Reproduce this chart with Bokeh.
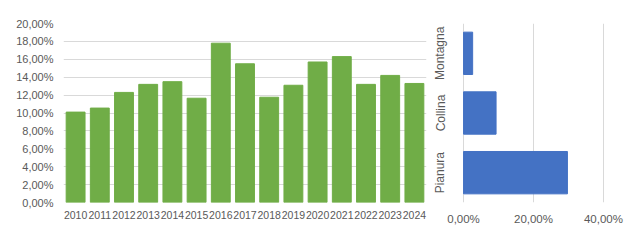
from bokeh.plotting import figure
from bokeh.layouts import row
from bokeh.models import FixedTicker, Range1d, FactorRange
from bokeh.embed import file_html
from bokeh.resources import INLINE

years = [str(y) for y in range(2010, 2025)]
year_values = [0.101, 0.1055, 0.123, 0.132, 0.135, 0.1165, 0.178, 0.155,
               0.1176, 0.131, 0.157, 0.163, 0.132, 0.142, 0.133]
y_ticks = [0.0, 0.02, 0.04, 0.06, 0.08, 0.10, 0.12, 0.14, 0.16, 0.18, 0.20]

zones = ["Pianura", "Collina", "Montagna"]
zone_values = [0.297, 0.093, 0.026]
x_ticks = [0.0, 0.2, 0.4]

def pct(v):
    return ("%.2f%%" % (v * 100)).replace(".", ",")

LABEL = "#595959"
GRID = "#d9d9d9"
FONT = "Liberation Sans"

left = figure(width=430, height=240, x_range=FactorRange(*years),
              y_range=Range1d(0, 0.20), output_backend="svg",
              toolbar_location=None, min_border_left=63, min_border_right=4,
              min_border_top=20, min_border_bottom=38)
left.vbar(x=years, top=year_values, width=0.78, color="#70AD47")
left.outline_line_color = None
left.xgrid.grid_line_color = None
left.ygrid.grid_line_color = GRID
left.ygrid.ticker = FixedTicker(ticks=y_ticks)
left.yaxis.ticker = FixedTicker(ticks=y_ticks)
left.yaxis.major_label_overrides = {t: pct(t) for t in y_ticks}
for ax in (left.xaxis[0], left.yaxis[0]):
    ax.axis_line_color = None
    ax.major_tick_line_color = None
    ax.minor_tick_line_color = None
    ax.major_tick_out = 0
    ax.major_tick_in = 0
    ax.major_label_text_color = LABEL
    ax.major_label_text_font = FONT
left.yaxis.major_label_text_font_size = "11px"
left.xaxis.major_label_text_font_size = "10.5px"
left.yaxis.major_label_standoff = 10
left.xaxis.major_label_standoff = 8

right = figure(width=200, height=240, y_range=FactorRange(*zones),
               x_range=Range1d(-0.003, 0.403), output_backend="svg",
               toolbar_location=None, min_border_left=30, min_border_right=26,
               min_border_top=23, min_border_bottom=28)
right.hbar(y=zones, right=zone_values, height=0.71, color="#4472C4")
right.outline_line_color = None
right.ygrid.grid_line_color = None
right.xgrid.grid_line_color = GRID
right.xgrid.ticker = FixedTicker(ticks=x_ticks)
right.xaxis.ticker = FixedTicker(ticks=x_ticks)
right.xaxis.major_label_overrides = {t: pct(t) for t in x_ticks}
for ax in (right.xaxis[0], right.yaxis[0]):
    ax.axis_line_color = None
    ax.major_tick_line_color = None
    ax.minor_tick_line_color = None
    ax.major_tick_out = 0
    ax.major_tick_in = 0
    ax.major_label_text_color = LABEL
    ax.major_label_text_font = FONT
right.xaxis.major_label_text_font_size = "11.5px"
right.yaxis.major_label_text_font_size = "12px"
right.yaxis.major_label_orientation = "vertical"
right.yaxis.major_label_standoff = 15
right.xaxis.major_label_standoff = 10

layout = row(left, right)
open("out.html", "w").write(file_html(layout, INLINE))
